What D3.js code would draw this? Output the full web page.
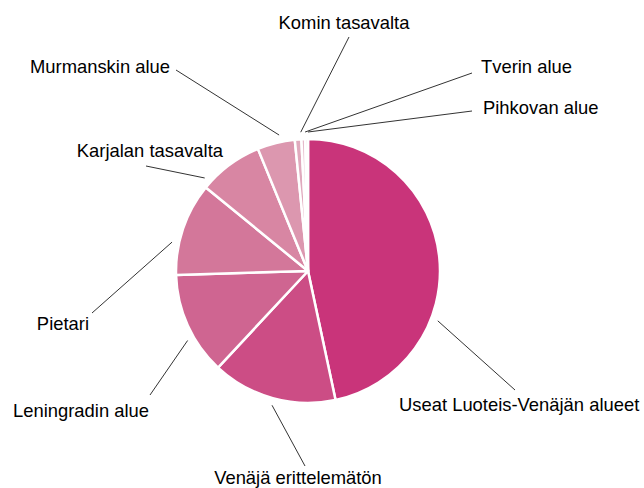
<!DOCTYPE html>
<html>
<head>
<meta charset="utf-8">
<script src="https://cdn.jsdelivr.net/npm/d3@7"></script>
<style>
  body { margin: 0; background: #fff; }
  text { font-family: "Liberation Sans", Arial, sans-serif; font-size: 18.4px; fill: #000; }
</style>
</head>
<body>
<svg id="chart" width="644" height="488"></svg>
<script>
// data
const regions = ["Useat Luoteis-Venäjän alueet", "Venäjä erittelemätön", "Leningradin alue", "Pietari",
  "Karjalan tasavalta", "Murmanskin alue", "Komin tasavalta", "Tverin alue", "Pihkovan alue"]
const shares = [46.7, 15.3, 12.6, 11.4, 7.9, 4.6, 0.8, 0.47, 0.33]
const colors = ["#c9347a", "#cc4d85", "#cf6591", "#d3779a", "#d886a3", "#dc97af", "#e0a9bd", "#e5bacb", "#eacad7"]

// label layout: anchor angle on the pie edge (deg), label end point, text anchor
const labelLayout = [
  {angle: 111, x: 515, y: 390, tx: 399, ty: 404, anchor: "start"},
  {angle: 195, x: 305, y: 466, tx: 298, ty: 477, anchor: "middle"},
  {angle: 240, x: 150, y: 395, tx: 13, ty: 410, anchor: "start"},
  {angle: 282, x: 92, y: 313, tx: 89, ty: 323, anchor: "end"},
  {angle: 312, x: 146, y: 166, tx: 223, ty: 150, anchor: "end"},
  {angle: 348, x: 176, y: 70, tx: 170, ty: 66, anchor: "end"},
  {angle: 357, x: 349, y: 37, tx: 344, ty: 22, anchor: "middle"},
  {angle: 358.8, x: 472, y: 73, tx: 481, ty: 66, anchor: "start"},
  {angle: 360, x: 472, y: 111, tx: 483, ty: 107, anchor: "start"}
]

const svg = d3.select("#chart")
const cx = 308, cy = 271, radius = 132

const table = regions.map((r, i) => ({name: r, value: shares[i], color: colors[i], lab: labelLayout[i]}))

const pie = d3.pie().sort(null).value(d => d.value)
const arc = d3.arc().innerRadius(0).outerRadius(radius)

const g = svg.append("g").attr("transform", `translate(${cx},${cy})`)

g.selectAll("path.slice")
  .data(pie(table))
  .join("path")
  .attr("class", "slice")
  .attr("d", arc)
  .attr("fill", d => d.data.color)
  .attr("stroke", "#fff")
  .attr("stroke-width", 2.5)
  .attr("stroke-linejoin", "round")

// leader lines
const edgeR = radius + 7
svg.selectAll("line.leader")
  .data(table)
  .join("line")
  .attr("class", "leader")
  .attr("x1", d => d.lab.x)
  .attr("y1", d => d.lab.y)
  .attr("x2", d => cx + edgeR * Math.sin(d.lab.angle * Math.PI / 180))
  .attr("y2", d => cy - edgeR * Math.cos(d.lab.angle * Math.PI / 180))
  .attr("stroke", "#333")
  .attr("stroke-width", 1)

svg.selectAll("text.label")
  .data(table)
  .join("text")
  .attr("class", "label")
  .attr("x", d => d.lab.tx)
  .attr("y", d => d.lab.ty)
  .attr("dominant-baseline", "central")
  .attr("text-anchor", d => d.lab.anchor)
  .text(d => d.name)
</script>
</body>
</html>
